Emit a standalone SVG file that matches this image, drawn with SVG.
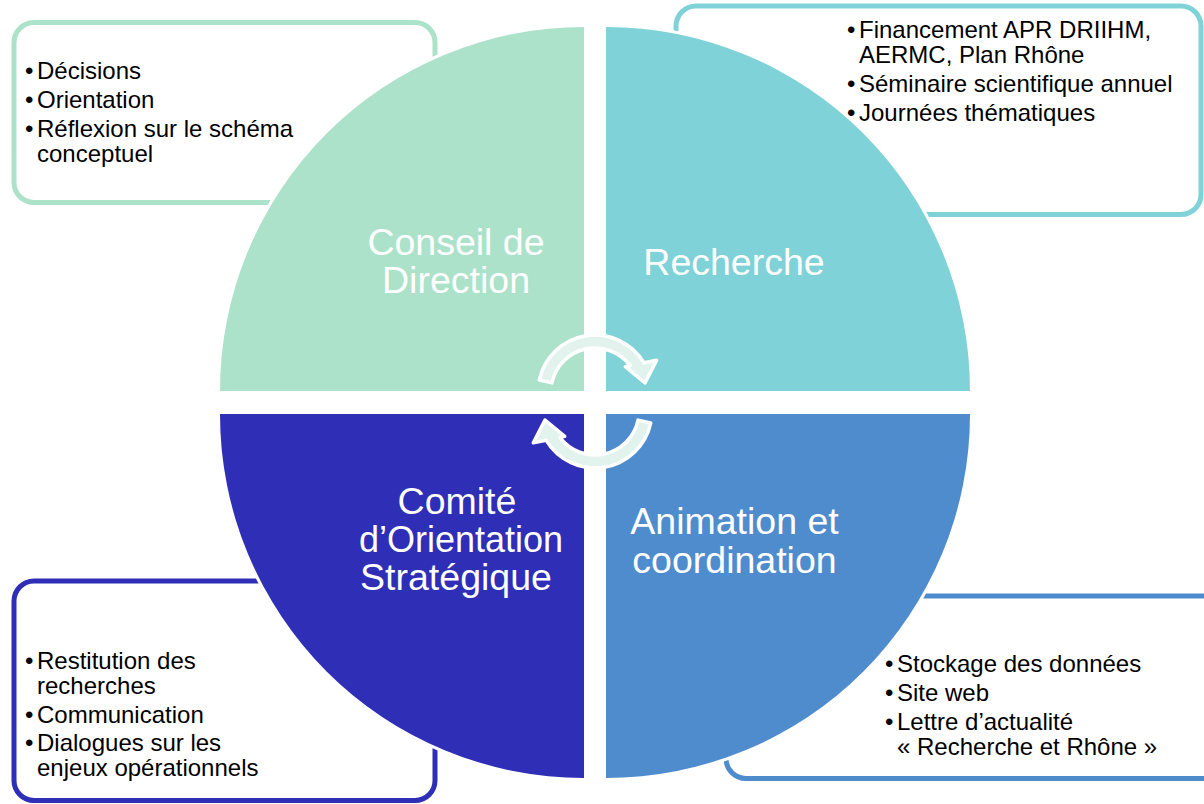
<svg xmlns="http://www.w3.org/2000/svg" width="1204" height="804" viewBox="0 0 1204 804">
<style>
.box{fill:#ffffff;stroke-width:5}
.quad{stroke:#ffffff;stroke-width:6;paint-order:stroke}
.lbl{font-family:"Liberation Sans",Arial,sans-serif;font-size:37.5px;fill:#ffffff;text-anchor:middle}
.txt{font-family:"Liberation Sans",Arial,sans-serif;font-size:24px;fill:#000000}
.arr{fill:#e1f3ec;stroke:#ffffff;stroke-width:3.5;stroke-linejoin:round}
</style>
<rect width="1204" height="804" fill="#ffffff"/>
<g id="box-conseil"><rect class="box" x="14" y="22.5" width="421" height="180" rx="20" stroke="#ace2ca"/></g>
<g id="box-recherche"><rect class="box" x="676" y="6" width="525" height="208.5" rx="20" stroke="#7ed2d8"/></g>
<g id="box-comite"><rect class="box" x="14" y="581" width="421" height="219.5" rx="20" stroke="#2e2eb6"/></g>
<g id="box-animation"><rect class="box" x="726" y="596" width="520" height="182.5" rx="20" stroke="#4e8cce"/></g>

<g id="node-conseil">
<path class="quad" fill="#ace2ca" d="M584,391 L220,391 A364,364 0 0 1 584,27 Z"/>
<text class="lbl"><tspan x="456" y="255">Conseil de</tspan><tspan x="456" y="293">Direction</tspan></text>
</g>
<g id="node-recherche">
<path class="quad" fill="#7ed2d8" d="M606,391 L606,27 A364,364 0 0 1 970,391 Z"/>
<text class="lbl" x="734" y="275">Recherche</text>
</g>
<g id="node-animation">
<path class="quad" fill="#4e8cce" d="M606,414 L970,414 A364,364 0 0 1 606,778 Z"/>
<text class="lbl"><tspan x="734.5" y="534">Animation et</tspan><tspan x="734.5" y="573">coordination</tspan></text>
</g>
<g id="node-comite">
<path class="quad" fill="#2e2eb6" d="M584,414 L584,778 A364,364 0 0 1 220,414 Z"/>
<text class="lbl"><tspan x="457" y="514">Comité</tspan><tspan x="461" y="552" style="font-size:36px">d’Orientation</tspan><tspan x="456" y="590">Stratégique</tspan></text>
</g>

<g id="text-conseil" class="txt">
<text x="25" y="79">•</text><text x="37" y="79">Décisions</text>
<text x="25" y="108">•</text><text x="37" y="108">Orientation</text>
<text x="25" y="137">•</text><text x="37" y="137">Réflexion sur le schéma</text>
<text x="37" y="162">conceptuel</text>
</g>
<g id="text-recherche" class="txt">
<text x="847" y="38">•</text><text x="859" y="38">Financement APR DRIIHM,</text>
<text x="859" y="63">AERMC, Plan Rhône</text>
<text x="847" y="92">•</text><text x="859" y="92">Séminaire scientifique annuel</text>
<text x="847" y="121">•</text><text x="859" y="121">Journées thématiques</text>
</g>
<g id="text-comite" class="txt">
<text x="25" y="669">•</text><text x="37" y="669">Restitution des</text>
<text x="37" y="694">recherches</text>
<text x="25" y="723">•</text><text x="37" y="723">Communication</text>
<text x="25" y="751">•</text><text x="37" y="751">Dialogues sur les</text>
<text x="37" y="776">enjeux opérationnels</text>
</g>
<g id="text-animation" class="txt">
<text x="885" y="672">•</text><text x="897" y="672">Stockage des données</text>
<text x="885" y="701">•</text><text x="897" y="701">Site web</text>
<text x="885" y="730">•</text><text x="897" y="730">Lettre d’actualité</text>
<text x="897" y="755">« Recherche et Rhône »</text>
</g>

<g id="connectors">
<path id="arrow-top" class="arr" d="M539.25,380.15 A57,57 0 0 1 643.94,362.8 L656.7,360.2 L645,383 L625.3,366.6 L630.2,365.6 A44,44 0 0 0 551.96,382.85 Z"/>
<path id="arrow-bottom" class="arr" transform="rotate(180 595 401.5)" d="M539.25,380.15 A57,57 0 0 1 643.94,362.8 L656.7,360.2 L645,383 L625.3,366.6 L630.2,365.6 A44,44 0 0 0 551.96,382.85 Z"/>
</g>
</svg>
